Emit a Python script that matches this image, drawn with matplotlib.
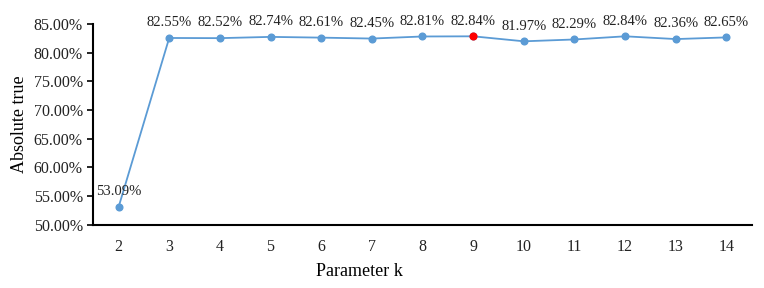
import matplotlib.pyplot as plt
from matplotlib.ticker import FuncFormatter

k_values = [2, 3, 4, 5, 6, 7, 8, 9, 10, 11, 12, 13, 14]
accuracy = [53.09, 82.55, 82.52, 82.74, 82.61, 82.45, 82.81, 82.84, 81.97, 82.29, 82.84, 82.36, 82.65]
best_k = 9

plt.rcParams['font.family'] = ['Liberation Serif', 'DejaVu Serif']

fig = plt.figure(figsize=(7.64, 2.88), dpi=100)
ax = fig.add_axes([0.122, 0.219, 0.862, 0.698])

blue = '#5B9BD5'
ax.plot(k_values, accuracy, color=blue, linewidth=1.3, marker='o', markersize=4.8,
        markerfacecolor=blue, markeredgecolor=blue, zorder=2)
bi = k_values.index(best_k)
ax.plot([k_values[bi]], [accuracy[bi]], 'o', color='#FF0000', markersize=4.8, zorder=3)

for k, v in zip(k_values, accuracy):
    ax.annotate(f'{v:.2f}%', (k, v), xytext=(0, 11), textcoords='offset points',
                ha='center', va='center', fontsize=10.5, color='#222222')

ax.set_xlim(1.5, 14.5)
ax.set_ylim(50, 85)
ax.set_xticks(k_values)
ax.set_yticks([50, 55, 60, 65, 70, 75, 80, 85])
ax.yaxis.set_major_formatter(FuncFormatter(lambda y, _: f'{y:.2f}%'))
ax.tick_params(axis='x', length=0, labelsize=11.5, pad=10, labelcolor='#222222')
ax.tick_params(axis='y', length=4, width=1.2, labelsize=11.5, direction='out',
               color='black', labelcolor='#222222')

for s in ['top', 'right']:
    ax.spines[s].set_visible(False)
for s in ['left', 'bottom']:
    ax.spines[s].set_linewidth(1.5)

ax.set_xlabel('Parameter k', fontsize=13, labelpad=6)
ax.xaxis.set_label_coords(0.405, -0.19)
ax.set_ylabel('Absolute true', fontsize=13, labelpad=4)

fig.savefig('out.png', dpi=100)
